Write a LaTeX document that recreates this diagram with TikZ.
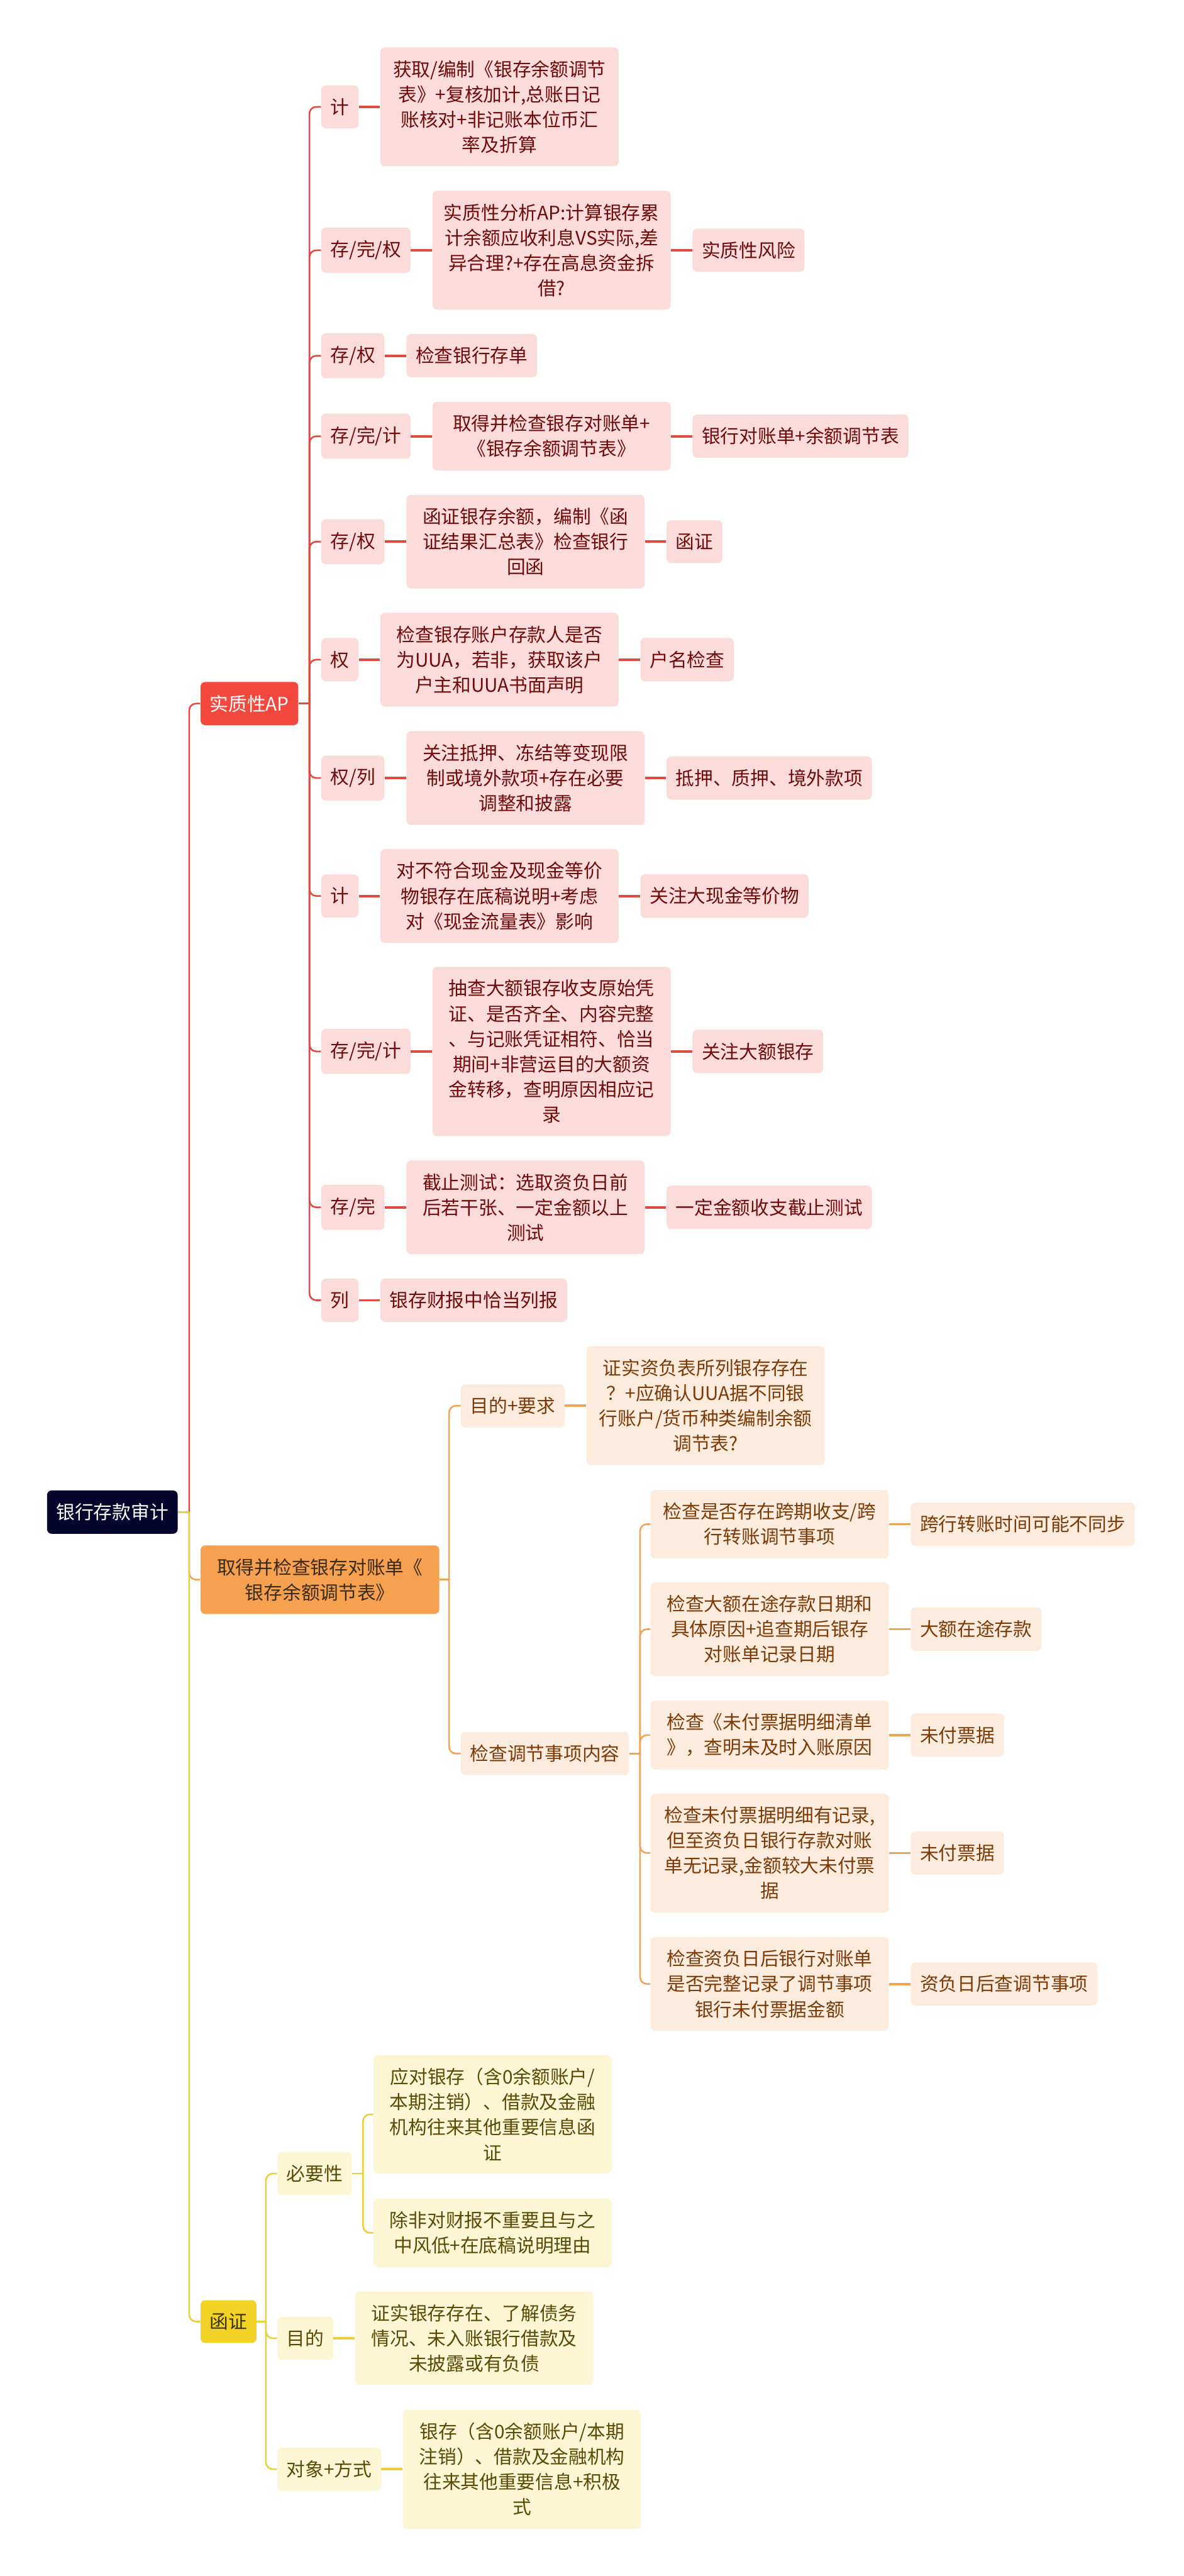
\documentclass[tikz,border=0pt]{standalone}
\usepackage{fontspec}
\setmainfont{Noto Sans CJK SC}
\usepackage{tikz}
\usetikzlibrary{calc, positioning}
\definecolor{rootnavy}{HTML}{06052B}
\definecolor{apred}{HTML}{F4473D}
\definecolor{aplinec}{HTML}{E04A42}
\definecolor{appink}{HTML}{FCDBDB}
\definecolor{aptext}{HTML}{6E0B0B}
\definecolor{recorange}{HTML}{F5A14F}
\definecolor{reclinec}{HTML}{EFA457}
\definecolor{recpale}{HTML}{FDEBDD}
\definecolor{recdark}{HTML}{3B2A18}
\definecolor{rectext}{HTML}{7A3B08}
\definecolor{confyellow}{HTML}{F2D226}
\definecolor{conflinec}{HTML}{EBCF3D}
\definecolor{confpale}{HTML}{FDF6D5}
\definecolor{confdark}{HTML}{3B3300}
\definecolor{conftext}{HTML}{594A05}
\newcommand{\mapfont}{\fontsize{11.5}{15.5}\selectfont}
\tikzset{
  mapbox/.style   = {rounded corners=1mm, inner xsep=2mm, inner ysep=2.8mm,
                     align=center, font=\mapfont},
  rootbox/.style  = {mapbox, fill=rootnavy, text=white},
  apmain/.style   = {mapbox, fill=apred, text=white},
  apnode/.style   = {mapbox, fill=appink, text=aptext},
  apwide/.style   = {apnode, text width=4.75cm},
  recmain/.style  = {mapbox, fill=recorange, text=recdark, text width=4.76cm},
  recnode/.style  = {mapbox, fill=recpale, text=rectext},
  recwide/.style  = {recnode, text width=4.75cm},
  confmain/.style = {mapbox, fill=confyellow, text=confdark},
  confnode/.style = {mapbox, fill=confpale, text=conftext},
  confwide/.style = {confnode, text width=4.75cm},
  apline/.style   = {draw=aplinec, line width=1pt, rounded corners=1.5mm},
  aplink/.style   = {draw=aplinec, line width=1.5pt},
  recline/.style  = {draw=reclinec, line width=1pt, rounded corners=1.5mm},
  reclink/.style  = {draw=reclinec, line width=1.5pt},
  confline/.style = {draw=conflinec, line width=1pt, rounded corners=1.5mm},
  conflink/.style = {draw=conflinec, line width=1.5pt},
}

\begin{document}
\begin{tikzpicture}[x=1cm, y=1cm, node distance=0.46cm]
  \useasboundingbox (0,0) rectangle (25.60,-55.69);
  \node[rootbox, anchor=west] (root) at (1.01,-32.69) {银行存款审计};
  \node[apmain, anchor=west] (ap) at (4.33,-15.21) {实质性AP};
  \node[recmain, anchor=west] (rec) at (4.33,-34.15) {取得并检查银存对账单《\\银存余额调节表》};
  \node[confmain, anchor=west] (conf) at (4.33,-50.19) {函证};
  \coordinate (rootJ) at (4.09,-32.69);
  \coordinate (apJ) at (6.69,-15.21);
  \coordinate (recJ) at (9.71,-34.15);
  \coordinate (confJ) at (5.75,-50.19);

  \node[apnode, anchor=west] (s1) at (6.94,-2.31) {计};
  \node[apwide, right=of s1] (s1a) {获取/编制《银存余额调节\\表》+复核加计,总账日记\\账核对+非记账本位币汇\\率及折算};
  \node[apnode, anchor=west] (s2) at (6.94,-5.41) {存/完/权};
  \node[apwide, right=of s2] (s2a) {实质性分析AP:计算银存累\\计余额应收利息VS实际,差\\异合理?+存在高息资金拆\\借?};
  \node[apnode, right=of s2a] (s2b) {实质性风险};
  \node[apnode, anchor=west] (s3) at (6.94,-7.69) {存/权};
  \node[apnode, right=of s3] (s3a) {检查银行存单};
  \node[apnode, anchor=west] (s4) at (6.94,-9.43) {存/完/计};
  \node[apwide, right=of s4] (s4a) {取得并检查银存对账单+\\《银存余额调节表》};
  \node[apnode, right=of s4a] (s4b) {银行对账单+余额调节表};
  \node[apnode, anchor=west] (s5) at (6.94,-11.71) {存/权};
  \node[apwide, right=of s5] (s5a) {函证银存余额，编制《函\\证结果汇总表》检查银行\\回函};
  \node[apnode, right=of s5a] (s5b) {函证};
  \node[apnode, anchor=west] (s6) at (6.94,-14.26) {权};
  \node[apwide, right=of s6] (s6a) {检查银存账户存款人是否\\为UUA，若非，获取该户\\户主和UUA书面声明};
  \node[apnode, right=of s6a] (s6b) {户名检查};
  \node[apnode, anchor=west] (s7) at (6.94,-16.82) {权/列};
  \node[apwide, right=of s7] (s7a) {关注抵押、冻结等变现限\\制或境外款项+存在必要\\调整和披露};
  \node[apnode, right=of s7a] (s7b) {抵押、质押、境外款项};
  \node[apnode, anchor=west] (s8) at (6.94,-19.37) {计};
  \node[apwide, right=of s8] (s8a) {对不符合现金及现金等价\\物银存在底稿说明+考虑\\对《现金流量表》影响};
  \node[apnode, right=of s8a] (s8b) {关注大现金等价物};
  \node[apnode, anchor=west] (s9) at (6.94,-22.73) {存/完/计};
  \node[apwide, right=of s9] (s9a) {抽查大额银存收支原始凭\\证、是否齐全、内容完整\\、与记账凭证相符、恰当\\期间+非营运目的大额资\\金转移，查明原因相应记\\录};
  \node[apnode, right=of s9a] (s9b) {关注大额银存};
  \node[apnode, anchor=west] (s10) at (6.94,-26.10) {存/完};
  \node[apwide, right=of s10] (s10a) {截止测试：选取资负日前\\后若干张、一定金额以上\\测试};
  \node[apnode, right=of s10a] (s10b) {一定金额收支截止测试};
  \node[apnode, anchor=west] (s11) at (6.94,-28.11) {列};
  \node[apnode, right=of s11] (s11a) {银存财报中恰当列报};

  \node[recnode, anchor=west] (o1) at (9.96,-30.39) {目的+要求};
  \node[recwide, right=of o1] (o1a) {证实资负表所列银存存在\\？+应确认UUA据不同银\\行账户/货币种类编制余额\\调节表?};
  \node[recnode, anchor=west] (o2) at (9.96,-37.91) {检查调节事项内容};
  \coordinate (o2J) at (13.84,-37.91);
  \node[recwide, anchor=west] (c1) at (14.06,-32.95) {检查是否存在跨期收支/跨\\行转账调节事项};
  \node[recnode, right=of c1] (c1a) {跨行转账时间可能不同步};
  \node[recwide, anchor=west] (c2) at (14.06,-35.22) {检查大额在途存款日期和\\具体原因+追查期后银存\\对账单记录日期};
  \node[recnode, right=of c2] (c2a) {大额在途存款};
  \node[recwide, anchor=west] (c3) at (14.06,-37.51) {检查《未付票据明细清单\\》，查明未及时入账原因};
  \node[recnode, right=of c3] (c3a) {未付票据};
  \node[recwide, anchor=west] (c4) at (14.06,-40.06) {检查未付票据明细有记录,\\但至资负日银行存款对账\\单无记录,金额较大未付票\\据};
  \node[recnode, right=of c4] (c4a) {未付票据};
  \node[recwide, anchor=west] (c5) at (14.06,-42.89) {检查资负日后银行对账单\\是否完整记录了调节事项\\银行未付票据金额};
  \node[recnode, right=of c5] (c5a) {资负日后查调节事项};

  \node[confnode, anchor=west] (y1) at (5.99,-46.99) {必要性};
  \coordinate (y1J) at (7.85,-46.99);
  \node[confwide, anchor=west] (y1a) at (8.07,-45.71) {应对银存（含0余额账户/\\本期注销）、借款及金融\\机构往来其他重要信息函\\证};
  \node[confwide, anchor=west] (y1b) at (8.07,-48.27) {除非对财报不重要且与之\\中风低+在底稿说明理由};
  \node[confnode, anchor=west] (y2) at (5.99,-50.55) {目的};
  \node[confwide, right=of y2] (y2a) {证实银存存在、了解债务\\情况、未入账银行借款及\\未披露或有负债};
  \node[confnode, anchor=west] (y3) at (5.99,-53.38) {对象+方式};
  \node[confwide, right=of y3] (y3a) {银存（含0余额账户/本期\\注销）、借款及金融机构\\往来其他重要信息+积极\\式};

  \draw[apline] (rootJ) |- (ap.west);
  \draw[recline] (rootJ) |- (rec.west);
  \draw[confline] (rootJ) |- (conf.west);
  \draw[confline] (root.east) -- (rootJ);

  \draw[apline] (ap.east) -- (apJ);
  \foreach \n in {s1,s2,s3,s4,s5,s6,s7,s8,s9,s10,s11}
    \draw[apline] (apJ) |- (\n.west);
  \foreach \a/\b in {s1/s1a,s2/s2a,s2a/s2b,s3/s3a,s4/s4a,s4a/s4b,s5/s5a,s5a/s5b,
                     s6/s6a,s6a/s6b,s7/s7a,s7a/s7b,s8/s8a,s8a/s8b,s9/s9a,s9a/s9b,
                     s10/s10a,s10a/s10b,s11/s11a}
    \draw[aplink] (\a) -- (\b);

  \draw[recline] (rec.east) -- (recJ);
  \draw[recline] (recJ) |- (o1.west);
  \draw[recline] (recJ) |- (o2.west);
  \draw[recline] (o2.east) -- (o2J);
  \foreach \n in {c1,c2,c3,c4,c5}
    \draw[recline] (o2J) |- (\n.west);
  \foreach \a/\b in {o1/o1a,c1/c1a,c2/c2a,c3/c3a,c4/c4a,c5/c5a}
    \draw[reclink] (\a) -- (\b);

  \draw[confline] (conf.east) -- (confJ);
  \foreach \n in {y1,y2,y3}
    \draw[confline] (confJ) |- (\n.west);
  \draw[confline] (y1.east) -- (y1J);
  \draw[confline] (y1J) |- (y1a.west);
  \draw[confline] (y1J) |- (y1b.west);
  \foreach \a/\b in {y2/y2a,y3/y3a}
    \draw[conflink] (\a) -- (\b);
\end{tikzpicture}
\end{document}
